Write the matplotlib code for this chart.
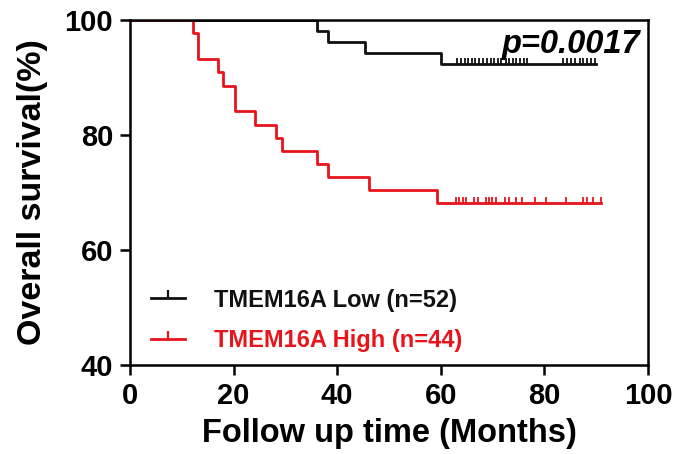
import numpy as np
import matplotlib
matplotlib.use("Agg")
import matplotlib.pyplot as plt
from matplotlib.lines import Line2D

plt.rcParams['font.family'] = ['Liberation Sans', 'DejaVu Sans']
plt.rcParams['font.weight'] = 'bold'

# survival curves (months, % surviving)
low_times = [0, 36.2, 38.3, 45.3, 60.1]
low_surv = [100, 98.1, 96.2, 94.2, 92.3]
low_end = 90.0
low_censor = [63.2, 63.9, 64.6, 65.3, 66.0, 66.7, 67.4, 68.2, 68.9, 69.6, 70.3,
              71.0, 71.7, 72.5, 73.2, 73.9, 74.6, 75.3, 76.0, 76.6,
              83.6, 84.4, 85.2, 86.0, 86.8, 87.5, 88.2, 89.0, 89.7]

high_times = [0, 12.2, 13.2, 17.1, 18.0, 20.3, 24.2, 28.2, 29.3, 36.2, 38.3, 46.2, 59.2]
high_surv = [100, 97.7, 93.2, 90.9, 88.6, 84.1, 81.8, 79.5, 77.3, 75.0, 72.7, 70.5, 68.2]
high_end = 91.0
high_censor = [63.0, 63.6, 64.2, 64.9, 66.4, 67.2, 68.7, 69.3, 69.9, 70.7,
               72.4, 73.2, 74.5, 75.7, 78.1, 80.4, 84.1, 87.4, 88.3, 89.3, 91.0]

groups = [
    ("TMEM16A Low (n=52)", low_times, low_surv, low_end, low_censor, "#111111"),
    ("TMEM16A High (n=44)", high_times, high_surv, high_end, high_censor, "#e8141c"),
]

fig = plt.figure(figsize=(6.8, 4.54), dpi=100)
ax = fig.add_axes([0.191, 0.196, 0.762, 0.760])

handles = []
for label, t, s, t_end, cens, col in groups:
    tt = list(t) + [t_end]
    ss = list(s) + [s[-1]]
    ax.step(tt, ss, where='post', color=col, lw=2.0, zorder=2)
    # censored ticks sit on the curve level at that time
    idx = np.searchsorted(t, cens, side='right') - 1
    cy = np.array(s)[idx]
    ax.plot(cens, cy, ls='none', marker=2, ms=4.5, mew=1.3, color=col, zorder=2)
    handles.append(Line2D([], [], color=col, lw=2.0, marker=2, ms=6, mew=1.6))

leg = ax.legend(handles, [g[0] for g in groups], loc='lower left',
                bbox_to_anchor=(0.0, -0.025), frameon=False, fontsize=17,
                handlelength=1.45, handletextpad=1.2, labelspacing=0.75)
for txt, g in zip(leg.get_texts(), groups):
    txt.set_color(g[5])

ax.text(0.985, 0.975, "p=0.0017", transform=ax.transAxes, ha='right', va='top',
        fontsize=23.5, fontstyle='italic', fontweight='bold')

ax.set_xlim(0, 100)
ax.set_ylim(40, 100)
ax.set_xticks([0, 20, 40, 60, 80, 100])
ax.set_yticks([40, 60, 80, 100])
ax.tick_params(labelsize=21, width=1.8, length=7, pad=5)
for sp in ax.spines.values():
    sp.set_linewidth(1.8)
    sp.set_zorder(3)

ax.set_xlabel("Follow up time (Months)", fontsize=23.5, fontweight='bold', labelpad=6)
ax.set_ylabel("Overall survival(%)", fontsize=24.5, fontweight='bold', labelpad=12)

fig.savefig("out.png", dpi=100)
